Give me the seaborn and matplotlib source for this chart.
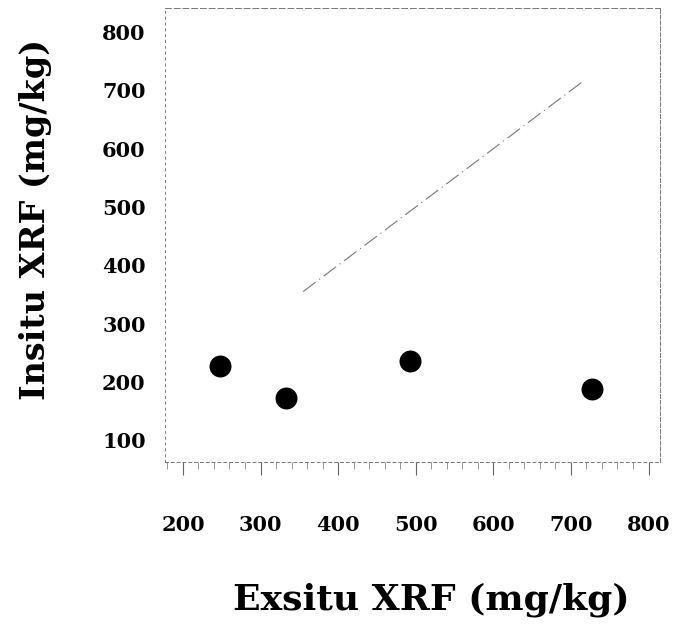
import matplotlib
matplotlib.use("Agg")
import matplotlib.pyplot as plt
import seaborn as sns
import pandas as pd
from matplotlib.ticker import MultipleLocator

# data
exsitu = [248, 333, 492, 727]
insitu = [228, 172, 236, 188]
line_x = [355, 715]
line_y = [355, 715]
x_ticks = [200, 300, 400, 500, 600, 700, 800]
y_ticks = [100, 200, 300, 400, 500, 600, 700, 800]

sns.set_style("white")
plt.rcParams['font.family'] = ['DejaVu Serif']
plt.rcParams['text.color'] = 'black'
plt.rcParams['xtick.color'] = 'black'
plt.rcParams['ytick.color'] = 'black'

fig = plt.figure(figsize=(6.82, 6.35), dpi=100)
ax = fig.add_axes([0.242, 0.272, 0.726, 0.715])

df = pd.DataFrame({"x": exsitu, "y": insitu})
ldf = pd.DataFrame({"x": line_x, "y": line_y})
sns.lineplot(data=ldf, x="x", y="y", ax=ax, color="#777777", lw=0.8,
             linestyle=(0, (14, 4, 1, 4)))
sns.scatterplot(data=df, x="x", y="y", ax=ax, color="black", s=250,
                edgecolor="black", linewidth=0, zorder=5)

ax.set_xlim(177, 815)
ax.set_ylim(62, 841)
ax.set_xticks(x_ticks)
ax.set_yticks(y_ticks)
ax.xaxis.set_minor_locator(MultipleLocator(20))
ax.set_xticklabels([str(v) for v in x_ticks], fontsize=15, fontweight='bold')
ax.set_yticklabels([str(v) for v in y_ticks], fontsize=15, fontweight='bold')
ax.tick_params(axis='x', which='major', direction='out', length=9, width=0.8,
               color='#666666', pad=29, bottom=True, labelcolor='black')
ax.tick_params(axis='x', which='minor', direction='out', length=5, width=0.6,
               color='#888888', bottom=True)
ax.tick_params(axis='y', which='both', length=0, pad=14, labelcolor='black')
for s in ['top', 'right', 'left', 'bottom']:
    ax.spines[s].set_visible(True)
    ax.spines[s].set_color('#777777')
    ax.spines[s].set_linewidth(0.7)
ax.spines['left'].set_linestyle((0, (2, 4)))
ax.spines['right'].set_linestyle((0, (4, 2)))
ax.spines['top'].set_linestyle((0, (6, 3)))
ax.spines['bottom'].set_linestyle((0, (3, 3)))
ax.set_xlabel("")
ax.set_ylabel("")

fig.text(0.633, 0.055, "Exsitu XRF (mg/kg)", ha='center', va='center',
         fontsize=26, fontweight='bold', color='black')
fig.text(0.052, 0.655, "Insitu XRF (mg/kg)", ha='center', va='center',
         rotation=90, fontsize=24, fontweight='bold', color='black')

fig.savefig("out.png", dpi=100)
